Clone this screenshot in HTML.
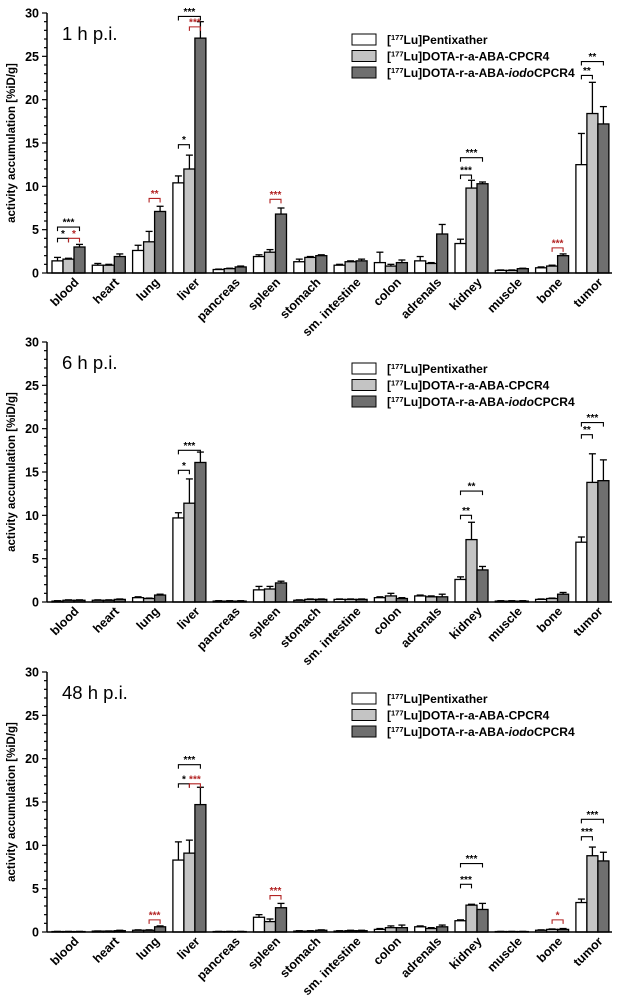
<!DOCTYPE html>
<html><head><meta charset="utf-8">
<style>
html,body{margin:0;padding:0;background:#fff;}
svg{display:block;font-family:"Liberation Sans",Arial,sans-serif;}
</style></head>
<body>
<svg id="chart" width="617" height="995" viewBox="0 0 617 995" xmlns="http://www.w3.org/2000/svg"></svg>
<script>
const categories = ["blood","heart","lung","liver","pancreas","spleen","stomach","sm. intestine","colon","adrenals","kidney","muscle","bone","tumor"];
const seriesNames = ["Pentixather","DOTA-r-a-ABA-CPCR4","DOTA-r-a-ABA-iodoCPCR4"];
const yTicks = [0,5,10,15,20,25,30];
const panelTitles = ["1 h p.i.","6 h p.i.","48 h p.i."];

const p1Pentixather = [1.4,0.9,2.6,10.4,0.4,1.9,1.3,0.9,1.2,1.4,3.4,0.3,0.6,12.5];
const p1PentixatherErr = [0.4,0.2,0.6,0.8,0.05,0.2,0.3,0.1,1.2,0.5,0.5,0.05,0.1,3.6];
const p1Cpcr4 = [1.6,0.9,3.6,12.0,0.5,2.4,1.8,1.3,0.8,1.1,9.8,0.3,0.8,18.4];
const p1Cpcr4Err = [0.1,0.1,1.2,1.6,0.05,0.3,0.1,0.1,0.2,0.1,0.9,0.05,0.1,3.6];
const p1Iodo = [3.0,1.9,7.1,27.1,0.7,6.8,2.0,1.4,1.2,4.5,10.3,0.5,2.0,17.2];
const p1IodoErr = [0.3,0.3,0.6,1.9,0.1,0.7,0.1,0.2,0.3,1.1,0.2,0.05,0.2,2.0];

const p2Pentixather = [0.1,0.2,0.5,9.7,0.1,1.4,0.2,0.3,0.5,0.7,2.6,0.1,0.3,6.9];
const p2PentixatherErr = [0.05,0.05,0.1,0.6,0.05,0.4,0.05,0.05,0.1,0.1,0.3,0.05,0.05,0.6];
const p2Cpcr4 = [0.2,0.2,0.4,11.4,0.1,1.5,0.3,0.3,0.7,0.6,7.2,0.1,0.4,13.8];
const p2Cpcr4Err = [0.05,0.05,0.05,2.8,0.05,0.3,0.05,0.05,0.3,0.1,2.0,0.05,0.05,3.3];
const p2Iodo = [0.2,0.3,0.8,16.1,0.1,2.2,0.3,0.3,0.4,0.6,3.7,0.1,0.9,14.0];
const p2IodoErr = [0.05,0.05,0.1,1.2,0.05,0.2,0.05,0.05,0.1,0.3,0.4,0.05,0.2,2.4];

const p3Pentixather = [0.05,0.1,0.2,8.3,0.05,1.7,0.1,0.1,0.3,0.6,1.3,0.05,0.2,3.4];
const p3PentixatherErr = [0.02,0.02,0.05,2.1,0.02,0.3,0.05,0.05,0.1,0.1,0.1,0.02,0.05,0.4];
const p3Cpcr4 = [0.05,0.1,0.2,9.1,0.05,1.2,0.1,0.15,0.5,0.4,3.1,0.05,0.3,8.8];
const p3Cpcr4Err = [0.02,0.02,0.05,1.5,0.02,0.3,0.05,0.05,0.2,0.1,0.1,0.02,0.05,1.0];
const p3Iodo = [0.05,0.15,0.6,14.7,0.05,2.8,0.2,0.15,0.5,0.6,2.6,0.05,0.3,8.2];
const p3IodoErr = [0.02,0.05,0.1,2.0,0.02,0.5,0.05,0.05,0.3,0.2,0.7,0.02,0.1,1.0];

// brackets: [group, barA, barB, yValue, stars, red?]
const p1Brackets = [[0,0,1,4.0,"*",0],[0,1,2,4.0,"*",1],[0,0,2,5.3,"***",0],[2,1,2,8.6,"**",1],[3,0,1,14.8,"*",0],[3,1,2,28.4,"***",1],[3,0,2,29.6,"***",0],[5,1,2,8.5,"***",1],[10,0,1,11.3,"***",0],[10,0,2,13.3,"***",0],[12,1,2,2.9,"***",1],[13,0,1,22.8,"**",0],[13,0,2,24.4,"**",0]];
const p2Brackets = [[3,0,1,15.2,"*",0],[3,0,2,17.5,"***",0],[10,0,1,10.0,"**",0],[10,0,2,12.8,"**",0],[13,0,1,19.3,"**",0],[13,0,2,20.7,"***",0]];
const p3Brackets = [[2,1,2,1.4,"***",1],[3,0,1,17.1,"*",0],[3,1,2,17.1,"***",1],[3,0,2,19.3,"***",0],[5,1,2,4.2,"***",1],[10,0,1,5.5,"***",0],[10,0,2,7.9,"***",0],[12,1,2,1.4,"*",1],[13,0,1,11.0,"***",0],[13,0,2,13.0,"***",0]];

const panels = [
 {vals:[p1Pentixather,p1Cpcr4,p1Iodo], errs:[p1PentixatherErr,p1Cpcr4Err,p1IodoErr], br:p1Brackets, y0:273},
 {vals:[p2Pentixather,p2Cpcr4,p2Iodo], errs:[p2PentixatherErr,p2Cpcr4Err,p2IodoErr], br:p2Brackets, y0:602},
 {vals:[p3Pentixather,p3Cpcr4,p3Iodo], errs:[p3PentixatherErr,p3Cpcr4Err,p3IodoErr], br:p3Brackets, y0:932}
];
const fills = ["#ffffff","#c4c4c4","#6f6f6f"];
const NS="http://www.w3.org/2000/svg";
const svg=document.getElementById('chart');
function mk(tag,attrs,parent,text){const e=document.createElementNS(NS,tag);for(const k in attrs)e.setAttribute(k,attrs[k]);if(text!==undefined)e.textContent=text;(parent||svg).appendChild(e);return e;}
const AX=47, XR=612, PXU=260/30, BW=11;
function xCenter(i){return 68.5+i*40.3;}
function barLeft(i,k){return xCenter(i)-16.5+k*BW;}

panels.forEach((p,pi)=>{
  const y=v=>p.y0-v*PXU;
  const g=mk('g',{});
  
  
  p.vals.forEach((arr,k)=>{
    arr.forEach((v,i)=>{
      const x=barLeft(i,k), top=y(v), et=y(v+p.errs[k][i]);
      const r=mk('rect',{x:x,y:top,width:BW,height:p.y0-top,fill:fills[k],stroke:"#000","stroke-width":1.3},g);
      
      
      mk('line',{x1:x+BW/2,x2:x+BW/2,y1:top,y2:et,stroke:"#000","stroke-width":1.3},g);
      mk('line',{x1:x+BW/2-3.5,x2:x+BW/2+3.5,y1:et,y2:et,stroke:"#000","stroke-width":1.3},g);
    });
  });
  const ya=mk('line',{x1:AX,x2:AX,y1:y(30),y2:p.y0,stroke:"#000","stroke-width":1.5},g);
  
  
  const xa=mk('line',{x1:AX,x2:XR,y1:p.y0,y2:p.y0,stroke:"#000","stroke-width":1.5},g);
  
  
  for(let v=0;v<=30;v++){mk('line',{x1:AX-(v%5===0?5:3),x2:AX,y1:y(v),y2:y(v),stroke:"#000","stroke-width":1.2},g);}
  yTicks.forEach(t=>{
    const tl=mk('text',{x:AX-8,y:y(t)+4.5,"text-anchor":"end","font-size":12.5,"font-weight":"bold"},g,String(t));
    
    
  });
  const yt=mk('text',{x:0,y:0,transform:`translate(15,${p.y0-130}) rotate(-90)`,"text-anchor":"middle","font-size":11.5,"font-weight":"bold"},g,"activity accumulation [%iD/g]");
  
  
  categories.forEach((c,i)=>{
    const cx=xCenter(i)+11, cy=p.y0+10;
    const t=mk('text',{x:0,y:0,transform:`translate(${cx},${cy}) rotate(-45)`,"text-anchor":"end","font-size":12.5,"font-weight":"bold"},g,c);
    
    
  });
  const title=mk('text',{x:62,y:p.y0-233,"font-size":18.5},g,panelTitles[pi]);
  
  
  seriesNames.forEach((n,k)=>{
    const ly=p.y0-233+k*16.5;
    const lr=mk('rect',{x:352,y:ly-6,width:24,height:11,fill:fills[k],stroke:"#000","stroke-width":1},g);
    
    
    const lt=mk('text',{x:387,y:ly+4,"font-size":12,"font-weight":"bold"},g);
    
    
    lt.appendChild(document.createTextNode('['));
    const s=document.createElementNS(NS,'tspan');s.setAttribute('font-size','7.5');s.setAttribute('dy','-4');s.textContent='177';lt.appendChild(s);
    const r=document.createElementNS(NS,'tspan');r.setAttribute('dy','4');
    if(k===2){r.textContent='Lu]DOTA-r-a-ABA-';lt.appendChild(r);const it=document.createElementNS(NS,'tspan');it.setAttribute('font-style','italic');it.textContent='iodo';lt.appendChild(it);lt.appendChild(document.createTextNode('CPCR4'));}
    else{r.textContent='Lu]'+n;lt.appendChild(r);}
  });
  p.br.forEach(b=>{
    const [gi,a,bb,v,stars,red]=b;
    const col=red?"#b22222":"#000";
    const x1=barLeft(gi,a)+BW/2, x2=barLeft(gi,bb)+BW/2, by=y(v);
    const pl=mk('polyline',{points:`${x1},${by+4} ${x1},${by} ${x2},${by} ${x2},${by+4}`,fill:"none",stroke:col,"stroke-width":1.1},g);
    
    
    const st=mk('text',{x:(x1+x2)/2,y:by-1.5,"text-anchor":"middle","font-size":10,"font-weight":"bold",fill:col},g,stars);
    
    
  });
});
</script>
</body></html>
